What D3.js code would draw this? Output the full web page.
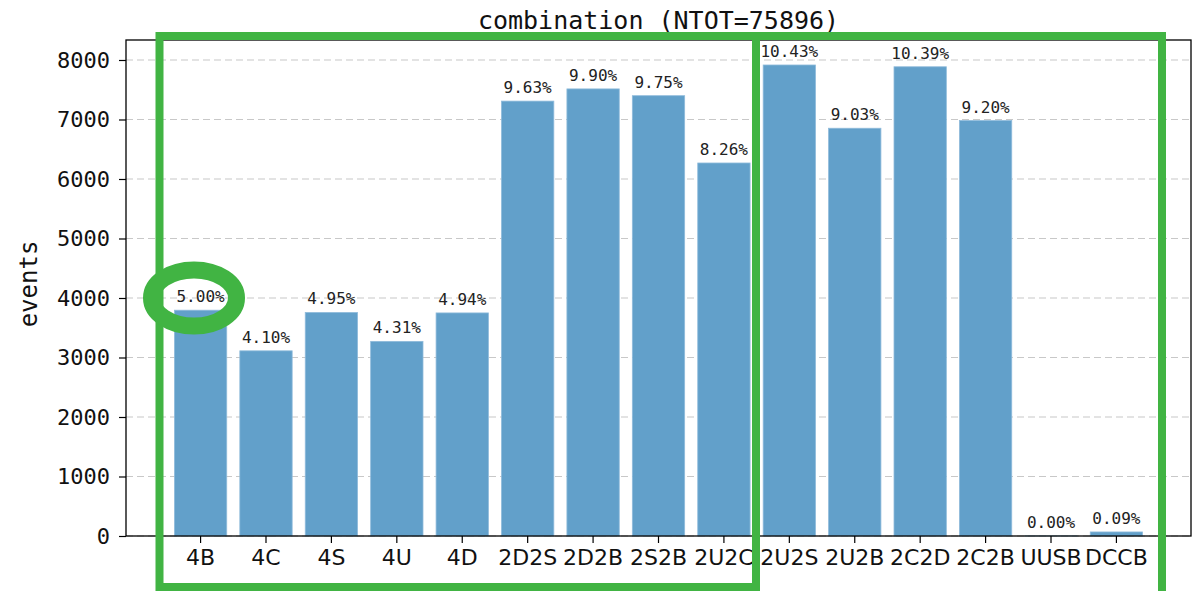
<!DOCTYPE html>
<html lang="en">
<head>
    <meta charset="UTF-8">
    <title>combination</title>
    <style>
        body { margin: 0; background: #fff; }
        svg { display: block; }
    </style>
</head>
<body>
    <svg id="chart" width="1204" height="591"></svg>
    <script src="https://d3js.org/d3.v7.min.js"></script>
    <script>
        // data
        var categories = ['4B', '4C', '4S', '4U', '4D', '2D2S', '2D2B', '2S2B', '2U2C',
                          '2U2S', '2U2B', '2C2D', '2C2B', 'UUSB', 'DCCB'];
        var events = [3795, 3112, 3757, 3271, 3749, 7309, 7514, 7400, 6269,
                      7916, 6853, 7886, 6982, 2, 68];
        var percents = ['5.00%', '4.10%', '4.95%', '4.31%', '4.94%', '9.63%', '9.90%', '9.75%', '8.26%',
                        '10.43%', '9.03%', '10.39%', '9.20%', '0.00%', '0.09%'];
        var yTicks = [0, 1000, 2000, 3000, 4000, 5000, 6000, 7000, 8000];
        var NTOT = 75896;

        var svg = d3.select('#chart');
        // plot area (window.top is read-only, so use other names)
        var plotL = 126, plotR = 1191, plotT = 40, plotB = 536;
        var mono = "'DejaVu Sans Mono', monospace";
        var green = '#41b443';

        var x = d3.scaleBand()
            .domain(categories)
            .range([plotL, plotR])
            .paddingInner(0.2)
            .paddingOuter(0.74);

        var y = d3.scaleLinear()
            .domain([0, 8336])
            .range([plotB, plotT]);

        // grid lines (behind bars)
        svg.append('g')
            .selectAll('line')
            .data(yTicks)
            .enter()
            .append('line')
            .attr('x1', plotL).attr('x2', plotR)
            .attr('y1', d => y(d)).attr('y2', d => y(d))
            .attr('stroke', '#c8c8c8')
            .attr('stroke-width', 1.2)
            .attr('stroke-dasharray', '7,4');

        // bars
        svg.append('g')
            .selectAll('rect')
            .data(events)
            .enter()
            .append('rect')
            .attr('x', (d, i) => x(categories[i]))
            .attr('width', x.bandwidth())
            .attr('y', d => y(d))
            .attr('height', d => y(0) - y(d))
            .attr('fill', '#62a0ca')
            .attr('stroke', '#8fbbdb')
            .attr('stroke-width', 0.8);

        // percent labels
        svg.append('g')
            .selectAll('text')
            .data(percents)
            .enter()
            .append('text')
            .attr('x', (d, i) => x(categories[i]) + x.bandwidth() / 2)
            .attr('y', (d, i) => y(events[i]) - 8)
            .attr('text-anchor', 'middle')
            .attr('font-family', mono)
            .attr('font-size', 16)
            .attr('fill', '#222')
            .text(d => d);

        // axes
        var xAxis = svg.append('g')
            .attr('transform', 'translate(0,' + plotB + ')')
            .call(d3.axisBottom(x).tickSizeOuter(0).tickSize(7).tickPadding(6));
        xAxis.select('.domain').remove();
        xAxis.selectAll('text')
            .attr('font-family', "'DejaVu Sans', sans-serif")
            .attr('font-size', 22)
            .attr('fill', '#111');
        xAxis.selectAll('line').attr('stroke', '#000').attr('stroke-width', 1.2);

        var yAxis = svg.append('g')
            .attr('transform', 'translate(' + plotL + ',0)')
            .call(d3.axisLeft(y).tickValues(yTicks).tickSize(7).tickPadding(9).tickFormat(d3.format('d')));
        yAxis.select('.domain').remove();
        yAxis.selectAll('text')
            .attr('font-family', mono)
            .attr('font-size', 22)
            .attr('fill', '#111');
        yAxis.selectAll('line').attr('stroke', '#000').attr('stroke-width', 1.2);

        // frame
        svg.append('rect')
            .attr('x', plotL).attr('y', plotT)
            .attr('width', plotR - plotL).attr('height', plotB - plotT)
            .attr('fill', 'none')
            .attr('stroke', '#000')
            .attr('stroke-width', 1.3);

        // title and y label
        svg.append('text')
            .attr('x', (plotL + plotR) / 2)
            .attr('y', 29)
            .attr('text-anchor', 'middle')
            .attr('font-family', mono)
            .attr('font-size', 25)
            .attr('fill', '#111')
            .text('combination (NTOT=' + NTOT + ')');

        svg.append('text')
            .attr('transform', 'translate(37,' + ((plotT + plotB) / 2 - 4) + ') rotate(-90)')
            .attr('text-anchor', 'middle')
            .attr('font-family', mono)
            .attr('font-size', 24)
            .attr('fill', '#111')
            .text('events');

        // green highlight marks drawn on top
        var marks = svg.append('g').attr('fill', 'none').attr('stroke', green);
        marks.append('rect')
            .attr('x', 159.5).attr('y', 36)
            .attr('width', 756 - 159.5).attr('height', 587 - 36)
            .attr('stroke-width', 8);
        marks.append('path')
            .attr('d', 'M756,600 V36 H1162 V600')
            .attr('stroke-width', 8);
        marks.append('ellipse')
            .attr('cx', 194).attr('cy', 298)
            .attr('rx', 42.5).attr('ry', 28)
            .attr('stroke-width', 17);
    </script>
</body>
</html>
